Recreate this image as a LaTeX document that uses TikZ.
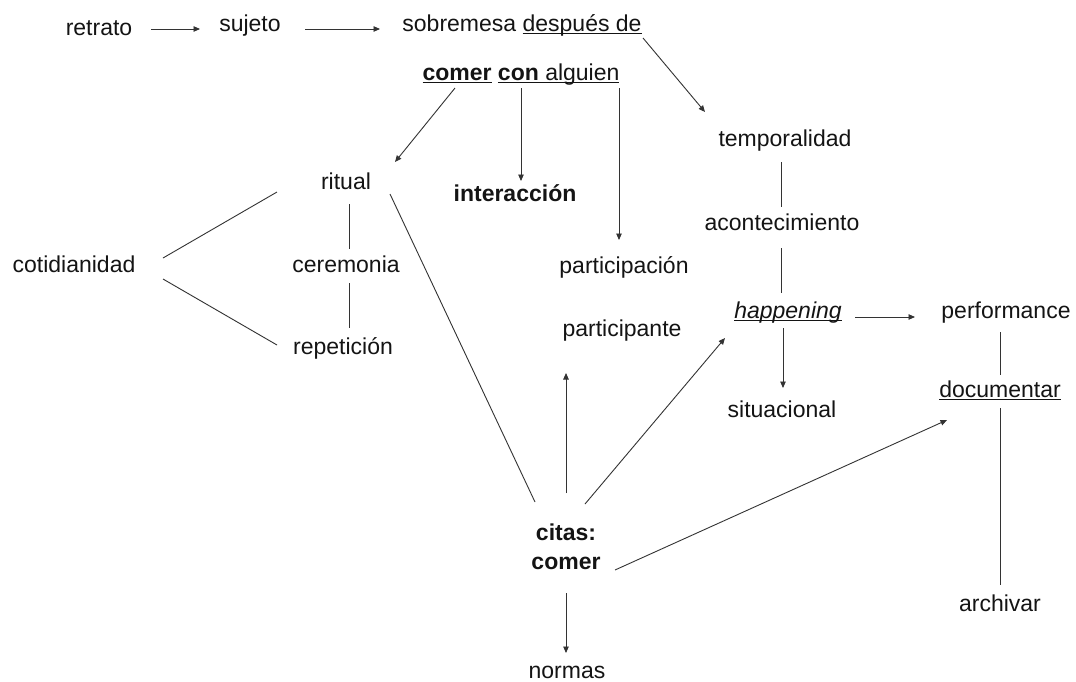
\documentclass[tikz,border=0pt]{standalone}
\usepackage{fontspec}
\setmainfont{Liberation Sans}
\usetikzlibrary{arrows.meta}
% underline drawn at a fixed distance under the baseline
\newcommand\undl[1]{\setbox0\hbox{#1}\rlap{\rule[-0.14em]{\wd0}{0.06em}}\box0\relax}

\begin{document}
\begin{tikzpicture}[x=1pt,y=-1pt,
  lbl/.style={inner sep=0pt, text height=16pt, text depth=4pt,
    font=\fontsize{23}{28}\selectfont, text=black!92},
  conn/.style={line width=0.9pt, draw=black!80},
  arr/.style={conn, -{Triangle[length=6.5pt,width=5.5pt]}}]

\fill[white] (0,0) rectangle (1076,681);
\useasboundingbox (0,0) rectangle (1076,681);

% concepts
\node[lbl] (retrato)       at (99,29)   {retrato};
\node[lbl] (sujeto)        at (250,25)  {sujeto};
\node[lbl] (sobremesa)     at (522,25)  {sobremesa \undl{después de}};
\node[lbl] (cca)           at (521,74)  {\undl{\bfseries comer} \undl{{\bfseries con} alguien}};
\node[lbl] (temporalidad)  at (785,140) {temporalidad};
\node[lbl] (acontecimiento) at (782,224) {acontecimiento};
\node[lbl] (happening)     at (788,312) {\undl{\itshape happening}};
\node[lbl] (performance)   at (1006,312) {performance};
\node[lbl] (documentar)    at (1000,391) {\undl{documentar}};
\node[lbl] (archivar)      at (1000,605) {archivar};
\node[lbl] (situacional)   at (782,411) {situacional};
\node[lbl] (ritual)        at (346,183) {ritual};
\node[lbl,font=\fontsize{23}{28}\selectfont\bfseries] (interaccion) at (515,195) {interacción};
\node[lbl] (participacion) at (624,267) {participación};
\node[lbl] (ceremonia)     at (346,266) {ceremonia};
\node[lbl] (repeticion)    at (343,348) {repetición};
\node[lbl] (cotidianidad)  at (74,266)  {cotidianidad};
\node[lbl] (participante)  at (622,330) {participante};
\node[inner sep=0pt, align=center, text=black!92,
      font=\fontsize{23}{29}\selectfont\bfseries] (citas) at (566,547) {citas:\\comer};
\node[lbl] (normas)        at (567,672) {normas};

% connectors
\draw[arr]  ([shift={(52,0)}]retrato.center)   -- ([shift={(-50,4)}]sujeto.center);
\draw[arr]  ([shift={(55,4)}]sujeto.center)    -- ([shift={(-142,4)}]sobremesa.center);
\draw[arr]  ([shift={(121,13)}]sobremesa.center) -- ([shift={(-80,-28)}]temporalidad.center);
\draw[arr]  ([shift={(-66,14)}]cca.center)     -- ([shift={(49,-21)}]ritual.center);
\draw[arr]  ([shift={(0,14)}]cca.center)       -- ([shift={(6,-14)}]interaccion.center);
\draw[arr]  ([shift={(98,14)}]cca.center)      -- ([shift={(-5,-27)}]participacion.center);
\draw[conn] ([shift={(-4,22)}]temporalidad.center) -- ([shift={(-1,-17)}]acontecimiento.center);
\draw[conn] ([shift={(-1,24)}]acontecimiento.center) -- ([shift={(-7,-19)}]happening.center);
\draw[arr]  ([shift={(67,5)}]happening.center) -- ([shift={(-91,5)}]performance.center);
\draw[arr]  ([shift={(-5,16)}]happening.center) -- ([shift={(1,-23)}]situacional.center);
\draw[conn] ([shift={(-6,20)}]performance.center) -- ([shift={(0,-16)}]documentar.center);
\draw[conn] ([shift={(0,17)}]documentar.center) -- ([shift={(0,-20)}]archivar.center);
\draw[conn] ([shift={(3,21)}]ritual.center)    -- ([shift={(3,-17)}]ceremonia.center);
\draw[conn] ([shift={(3,17)}]ceremonia.center) -- ([shift={(6,-20)}]repeticion.center);
\draw[conn] ([shift={(89,-8)}]cotidianidad.center) -- ([shift={(-69,9)}]ritual.center);
\draw[conn] ([shift={(89,13)}]cotidianidad.center) -- ([shift={(-66,-3)}]repeticion.center);
\draw[conn] ([shift={(44,11)}]ritual.center)   -- ([shift={(-31,-45)}]citas.center);
\draw[arr]  ([shift={(0,-54)}]citas.center)    -- ([shift={(-56,43)}]participante.center);
\draw[arr]  ([shift={(19,-43)}]citas.center)   -- ([shift={(-63,26)}]happening.center);
\draw[arr]  ([shift={(49,23)}]citas.center)    -- ([shift={(-53,29)}]documentar.center);
\draw[arr]  ([shift={(0,46)}]citas.center)     -- ([shift={(-1,-19)}]normas.center);
\end{tikzpicture}
\end{document}
